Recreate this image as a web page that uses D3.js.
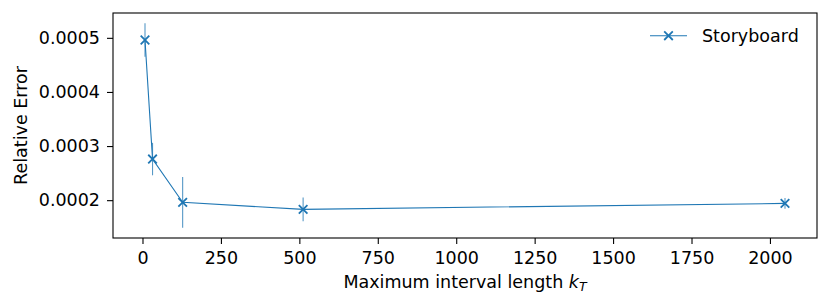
<!DOCTYPE html>
<html>
<head>
<meta charset="utf-8">
<title>relative error vs interval length</title>
<script src="https://cdn.jsdelivr.net/npm/d3@7/dist/d3.min.js"></script>
<style>
  body{margin:0;background:#fff;}
  svg text{font-family:"DejaVu Sans",sans-serif;}
</style>
</head>
<body>
<div id="container"></div>
<script>
  // values
  var intervalLen = [8, 32, 128, 512, 2048];
  var relError = [0.000496, 0.000276, 0.000196, 0.000183, 0.000194];
  var errBar = [0.000031, 0.00003, 0.000047, 0.000022, 0.00001];
  var xTicks = [0, 250, 500, 750, 1000, 1250, 1500, 1750, 2000];
  var yTicks = [0.0002, 0.0003, 0.0004, 0.0005];
  var seriesName = "Storyboard";

  var color = "#1f77b4";
  var fs = "17.5px";
  var W = 830, H = 308;
  var margin = {top: 13, right: 13, bottom: 70, left: 113};
  var width = W - margin.left - margin.right,
      height = H - margin.top - margin.bottom;

  var data = intervalLen.map(function(d, i){
    return {x: d, y: relError[i], e: errBar[i]};
  });

  // matplotlib style 5% margins
  var xmin = d3.min(intervalLen), xmax = d3.max(intervalLen);
  var ylo = d3.min(data, d => d.y - d.e), yhi = d3.max(data, d => d.y + d.e);
  var xpad = (xmax - xmin) * 0.05, ypad = (yhi - ylo) * 0.05;

  var xScale = d3.scaleLinear().domain([xmin - xpad, xmax + xpad]).range([0, width]);
  var yScale = d3.scaleLinear().domain([ylo - ypad, yhi + ypad]).range([height, 0]);

  var svg = d3.select("#container").append("svg")
      .attr("width", W).attr("height", H);

  var g = svg.append("g")
      .attr("transform", "translate(" + margin.left + "," + margin.top + ")");

  var xAxis = d3.axisBottom(xScale).tickValues(xTicks).tickSize(6).tickPadding(8).tickFormat(d3.format("d"));
  var yAxis = d3.axisLeft(yScale).tickValues(yTicks).tickSize(6).tickPadding(7).tickFormat(d3.format(".4f"));

  g.append("g").attr("class", "ax")
      .attr("transform", "translate(0," + height + ")")
      .call(xAxis);
  g.append("g").attr("class", "ax")
      .call(yAxis);

  d3.selectAll(".ax .domain").remove();
  d3.selectAll(".ax .tick line").attr("stroke", "#000").attr("stroke-width", 1.1);
  d3.selectAll(".ax .tick text").attr("fill", "#000").style("font-size", fs);

  // frame
  g.append("rect")
      .attr("width", width).attr("height", height)
      .attr("fill", "none").attr("stroke", "#000").attr("stroke-width", 1.1);

  // error bars
  g.selectAll(".ebar").data(data).enter().append("line")
      .attr("class", "ebar")
      .attr("x1", d => xScale(d.x)).attr("x2", d => xScale(d.x))
      .attr("y1", d => yScale(d.y - d.e)).attr("y2", d => yScale(d.y + d.e))
      .attr("stroke", color).attr("stroke-width", 1.1).attr("opacity", 0.75);

  var line = d3.line().x(d => xScale(d.x)).y(d => yScale(d.y));
  g.append("path").datum(data)
      .attr("d", line)
      .attr("fill", "none").attr("stroke", color).attr("stroke-width", 1.1);

  function cross(sel, s){
    sel.append("path")
      .attr("d", "M" + (-s) + "," + (-s) + "L" + s + "," + s + "M" + (-s) + "," + s + "L" + s + "," + (-s))
      .attr("stroke", color).attr("stroke-width", 1.8).attr("fill", "none");
  }

  g.selectAll(".mk").data(data).enter().append("g")
      .attr("class", "mk")
      .attr("transform", d => "translate(" + xScale(d.x) + "," + yScale(d.y) + ")")
      .each(function(){ cross(d3.select(this), 4.3); });

  // legend
  var lg = svg.append("g").attr("transform", "translate(650,35.7)");
  lg.append("line").attr("x1", 0).attr("x2", 37).attr("y1", 0).attr("y2", 0)
      .attr("stroke", color).attr("stroke-width", 1.1);
  cross(lg.append("g").attr("transform", "translate(18.5,0)"), 4.3);
  lg.append("text").attr("x", 52).attr("y", 6.3)
      .style("font-size", fs).attr("fill", "#000")
      .text(seriesName);

  // axis labels
  var xl = svg.append("text")
      .attr("x", margin.left + width / 2).attr("y", 288)
      .attr("text-anchor", "middle")
      .style("font-size", fs).attr("fill", "#000");
  xl.append("tspan").text("Maximum interval length ");
  xl.append("tspan").style("font-style", "italic").text("k");
  xl.append("tspan").style("font-style", "italic").style("font-size", "12.5px").attr("dy", 3).text("T");

  svg.append("text")
      .attr("transform", "translate(27," + (margin.top + height / 2) + ") rotate(-90)")
      .attr("text-anchor", "middle")
      .style("font-size", fs).attr("fill", "#000")
      .text("Relative Error");
</script>
</body>
</html>
